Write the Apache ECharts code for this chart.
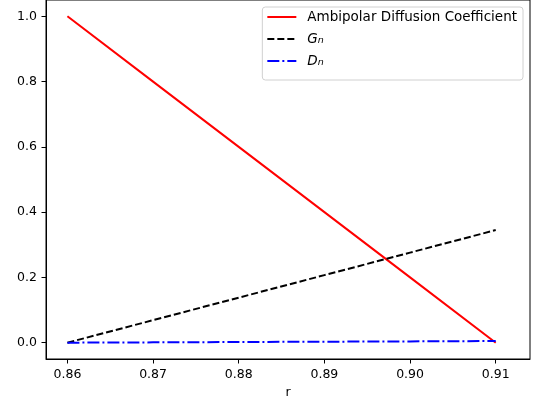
<!DOCTYPE html>
<html>
<head>
<meta charset="utf-8">
<script src="https://cdn.jsdelivr.net/npm/echarts@6/dist/echarts.min.js"></script>
<style>
  html, body { margin: 0; padding: 0; background: #fff; }
  #chart { width: 536px; height: 406px; }
</style>
</head>
<body>
<div id="chart"></div>
<script>
// values
var rValues = [0.86, 0.87, 0.88, 0.89, 0.90, 0.91];
var ambipolar = [1.0, 0.8, 0.6, 0.4, 0.2, 0.0];
var gn = [0.0, 0.069, 0.138, 0.207, 0.276, 0.345];
var dn = [0.0, 0.001, 0.002, 0.003, 0.004, 0.005];
var xTicks = [0.86, 0.87, 0.88, 0.89, 0.90, 0.91];
var yTicks = [0.0, 0.2, 0.4, 0.6, 0.8, 1.0];

function pairs(ys) {
  return rValues.map(function (x, i) { return [x, ys[i]]; });
}

var font = 'DejaVu Sans';
var chart = echarts.init(document.getElementById('chart'));
chart.setOption({
  animation: false,
  textStyle: { fontFamily: font },
  grid: {
    left: 46, right: 6, top: 0, bottom: 47,
    show: true, borderColor: '#000', borderWidth: 1
  },
  legend: {
    orient: 'vertical',
    right: 13, top: 7,
    padding: [3, 6, 12, 4],
    itemWidth: 29, itemHeight: 14, itemGap: 6,
    borderColor: '#d0d0d0', borderWidth: 1, borderRadius: 3,
    backgroundColor: 'rgba(255,255,255,0.8)',
    itemStyle: { opacity: 0 },
    data: ['Ambipolar Diffusion Coefficient', 'Gn', 'Dn'],
    formatter: function (name) {
      if (name === 'Gn') return '{i|G}{s|n}';
      if (name === 'Dn') return '{i|D}{s|n}';
      return '{t|' + name + '}';
    },
    textStyle: {
      fontFamily: font, fontSize: 13.5, color: '#000',
      padding: [0, 0, 0, 6],
      rich: {
        t: { fontFamily: font, fontSize: 13.5, color: '#000', lineHeight: 14 },
        i: { fontFamily: font, fontSize: 13.5, fontStyle: 'italic', color: '#000', lineHeight: 14 },
        s: { fontFamily: font, fontSize: 9.5, fontStyle: 'italic', color: '#000', verticalAlign: 'bottom', padding: [6, 0, 0, 0], lineHeight: 14 }
      }
    }
  },
  xAxis: {
    type: 'value',
    min: 0.8575, max: 0.914,
    name: 'r', nameLocation: 'middle', nameGap: 25,
    nameTextStyle: { fontFamily: font, fontSize: 12.5, color: '#000' },
    axisLine: { onZero: false, lineStyle: { color: '#000' } },
    splitLine: { show: false },
    axisTick: { show: true, length: 4.5, lineStyle: { color: '#000' }, customValues: xTicks },
    axisLabel: {
      fontFamily: font, fontSize: 12.5, color: '#000', margin: 9,
      customValues: xTicks,
      formatter: function (v) { return v.toFixed(2); }
    }
  },
  yAxis: {
    type: 'value',
    min: -0.05, max: 1.05,
    axisLine: { show: true, onZero: false, lineStyle: { color: '#000' } },
    splitLine: { show: false },
    axisTick: { show: true, length: 4.5, lineStyle: { color: '#000' }, customValues: yTicks },
    axisLabel: {
      fontFamily: font, fontSize: 12.5, color: '#000', margin: 9,
      customValues: yTicks,
      formatter: function (v) { return v.toFixed(1); }
    }
  },
  series: [
    {
      name: 'Ambipolar Diffusion Coefficient', type: 'line', symbol: 'none',
      data: pairs(ambipolar),
      lineStyle: { color: '#ff0000', width: 2 },
      itemStyle: { color: '#ff0000' }
    },
    {
      name: 'Gn', type: 'line', symbol: 'none',
      data: pairs(gn),
      lineStyle: { color: '#000000', width: 2, type: [7, 3] },
      itemStyle: { color: '#000000' }
    },
    {
      name: 'Dn', type: 'line', symbol: 'none',
      data: pairs(dn),
      lineStyle: { color: '#0000ff', width: 2, type: [12, 3, 2, 3] },
      itemStyle: { color: '#0000ff' }
    }
  ]
});
</script>
</body>
</html>
